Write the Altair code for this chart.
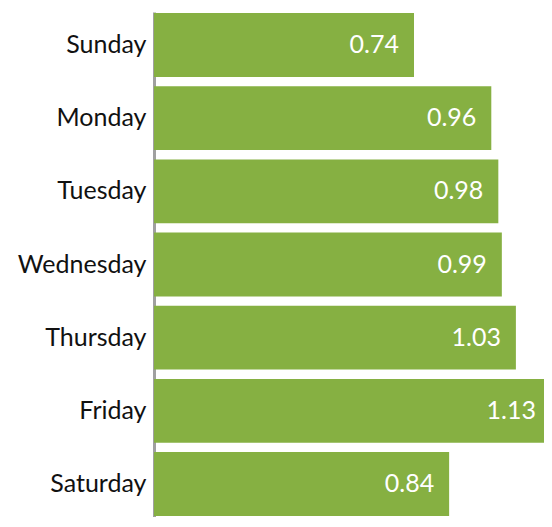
import altair as alt
import pandas as pd

days = ["Sunday", "Monday", "Tuesday", "Wednesday", "Thursday", "Friday", "Saturday"]
values = [0.74, 0.96, 0.98, 0.99, 1.03, 1.13, 0.84]
labels = ["0.74", "0.96", "0.98", "0.99", "1.03", "1.13", "0.84"]

df = pd.DataFrame({"day": days, "value": values, "label": labels})

FONT = "Lato"

y_enc = alt.Y(
    "day:N",
    sort=days,
    title=None,
    scale=alt.Scale(paddingInner=0.127, paddingOuter=0.015),
    axis=alt.Axis(
        domain=True,
        domainColor="#a0a0a0",
        domainWidth=3,
        ticks=False,
        labelFont=FONT,
        labelFontSize=25,
        labelColor="#111111",
        labelPadding=8,
    ),
)
x_enc = alt.X(
    "value:Q",
    title=None,
    scale=alt.Scale(domain=[0, 1.11], nice=False),
    axis=None,
)

bars = alt.Chart(df).mark_bar(color="#86b042", clip=True).encode(y=y_enc, x=x_enc)
text = alt.Chart(df).mark_text(
    align="right", baseline="middle", dx=-15, color="white", font=FONT, fontSize=25
).encode(y=alt.Y("day:N", sort=days), x="value:Q", text="label:N")

chart = (
    alt.layer(bars, text)
    .properties(
        width=390,
        height=505,
        padding={"left": 146, "top": 4, "right": 0, "bottom": 0},
        autosize=alt.AutoSizeParams(type="none"),
    )
    .configure_view(stroke=None)
)

chart.save("out.html", embed_options={"renderer": "svg", "actions": False})
